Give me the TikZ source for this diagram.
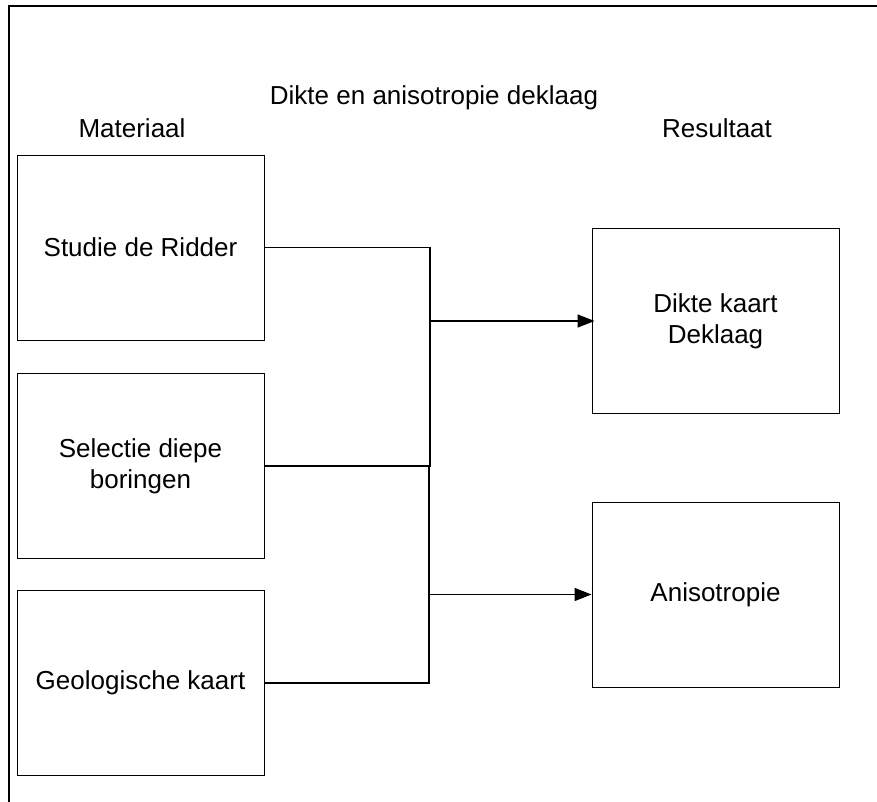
\documentclass[tikz,border=0pt]{standalone}
\usepackage{fontspec}
\setmainfont{Liberation Sans}
\usetikzlibrary{arrows.meta}
\tikzset{
  blok/.style={draw,line width=0.9pt,minimum width=247pt,minimum height=185pt,
    inner sep=0pt,align=center,font=\fontsize{26}{31}\selectfont},
  kop/.style={font=\fontsize{26}{31}\selectfont,inner sep=0pt},
  lijn/.style={line width=1.4pt}
}
\begin{document}
\begin{tikzpicture}[x=1pt,y=-1pt,>={Triangle[length=17pt,width=13pt]}]
\useasboundingbox (0,0) rectangle (877,802);
\draw[line width=2.4pt] (9,802) -- (9,6) -- (877,6);
\node[kop] (titel) at (434,98) {Dikte en anisotropie deklaag};
\node[kop] (materiaal) at (132,128) {Materiaal};
\node[kop] (resultaat) at (717,128) {Resultaat};
\node[blok] (ridder) at (140.5,247.5) {Studie de Ridder};
\node[blok] (boringen) at (140.5,466) {Selectie diepe\\boringen};
\node[blok] (geokaart) at (140.5,683) {Geologische kaart};
\node[blok] (dikte) at (715.5,321) {Dikte kaart\\Deklaag};
\node[blok] (aniso) at (715.5,594.5) {Anisotropie};
\coordinate (j1) at (430,321);
\coordinate (j2) at (429,594.5);
\draw[lijn] (ridder.east) -| (boringen.east -| j1) -- (boringen.east);
\draw[lijn] (boringen.east -| j2) |- (geokaart.east);
\draw[lijn,->] (j1) -- ([xshift=3pt]dikte.west);
\draw[lijn,->] (j2) -- (aniso.west);
\end{tikzpicture}
\end{document}
